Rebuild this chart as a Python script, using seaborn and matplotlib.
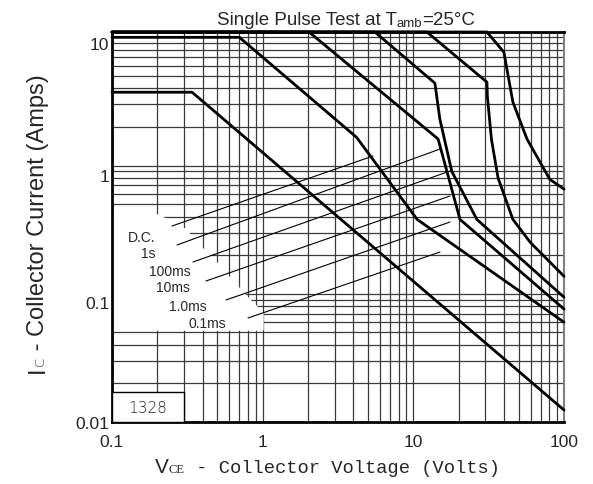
import numpy as np
import pandas as pd
import seaborn as sns
from matplotlib import pyplot as plt
from matplotlib import transforms
from matplotlib.ticker import LogLocator, FixedLocator, FixedFormatter, NullFormatter

sns.set_style('white')
plt.rcParams['font.family'] = ['Liberation Sans', 'DejaVu Sans']

# safe operating area curves (Vce in volts, Ic in amps)
dc_v = [0.1, 0.34, 100]
dc_i = [3.73, 3.73, 0.0124]

s1_v = [0.1, 0.7, 4.2, 10.6, 100]
s1_i = [10.0, 10.0, 1.66, 0.38, 0.060]

ms100_v = [0.1, 2.03, 14.6, 20.4, 100]
ms100_i = [11.0, 11.0, 1.61, 0.38, 0.076]

ms10_v = [0.1, 5.56, 13.9, 15.0, 18.0, 26.4, 100]
ms10_i = [11.0, 11.0, 4.39, 2.30, 0.90, 0.38, 0.094]

ms1_v = [0.1, 12.3, 30.8, 31.0, 33.0, 36.5, 45.8, 60.0, 100]
ms1_i = [11.0, 11.0, 4.47, 3.47, 1.60, 0.80, 0.38, 0.25, 0.137]

ms01_v = [0.1, 30.8, 39.9, 45.8, 56.8, 80.5, 100]
ms01_i = [11.0, 11.0, 7.65, 3.12, 1.61, 0.78, 0.655]

curve_names = ['D.C.', '1s', '100ms', '10ms', '1.0ms', '0.1ms']

x_ticks = [0.1, 1, 10, 100]
x_tick_labels = ['0.1', '1', '10', '100']
y_ticks = [0.01, 0.1, 1, 10]
y_tick_labels = ['0.01', '0.1', '1', '10']


def px(x, y):
    """pixel position of the original picture -> axes fraction"""
    return (x - 112) / 452.0, (423 - y) / 390.0


def rich_text(fig, x, y, parts, rotation=0):
    """draw text pieces one after another (mixed fonts / sizes)"""
    renderer = fig.canvas.get_renderer()
    inv = fig.transFigure.inverted()
    for s, dy, kw in parts:
        if rotation == 0:
            xx, yy = x, y - dy / fig.bbox.height
        else:
            xx, yy = x + dy / fig.bbox.width, y
        t = fig.text(xx, yy, s, rotation=rotation, rotation_mode='anchor',
                     ha='left', va='baseline', **kw)
        bb = t.get_window_extent(renderer)
        if rotation == 0:
            x = inv.transform((bb.x1, 0))[0]
        else:
            y = inv.transform((0, bb.y1))[1]


def main():
    frames = []
    for name, v, i in zip(curve_names,
                          [dc_v, s1_v, ms100_v, ms10_v, ms1_v, ms01_v],
                          [dc_i, s1_i, ms100_i, ms10_i, ms1_i, ms01_i]):
        frames.append(pd.DataFrame({'V': v, 'I': i, 'curve': name}))
    df = pd.concat(frames, ignore_index=True)

    fig = plt.figure(figsize=(5.93, 4.85), dpi=100)
    ax = fig.add_axes([112 / 593, 62 / 485, 452 / 593, 390 / 485])
    ax.set_xscale('log')
    ax.set_yscale('log')

    sns.lineplot(data=df, x='V', y='I', hue='curve', units='curve', estimator=None,
                 sort=False, palette={n: 'black' for n in curve_names},
                 linewidth=2, legend=False, ax=ax, zorder=4, clip_on=False)

    ax.set_xlim(0.1, 100)
    ax.set_ylim(0.01, 11)

    ax.xaxis.set_major_locator(FixedLocator(x_ticks))
    ax.xaxis.set_major_formatter(FixedFormatter(x_tick_labels))
    ax.yaxis.set_major_locator(FixedLocator(y_ticks))
    ax.yaxis.set_major_formatter(FixedFormatter(y_tick_labels))
    ax.xaxis.set_minor_locator(LogLocator(base=10, subs=np.arange(2, 10)))
    ax.yaxis.set_minor_locator(LogLocator(base=10, subs=np.arange(2, 10)))
    ax.xaxis.set_minor_formatter(NullFormatter())
    ax.yaxis.set_minor_formatter(NullFormatter())
    ax.tick_params(which='both', length=0, labelsize=12.5)
    ax.tick_params(axis='x', pad=9)
    ax.tick_params(axis='y', pad=2)
    ax.grid(which='both', color='#3a3a3a', linewidth=0.9)
    ax.set_axisbelow(True)
    ax.set_xlabel('')
    ax.set_ylabel('')

    # the y labels sit a little below their grid lines in the original
    for lab, shift in zip(ax.get_yticklabels(), [0, 8, 9, 6]):
        off = transforms.ScaledTranslation(0, -shift / 100.0, fig.dpi_scale_trans)
        lab.set_transform(lab.get_transform() + off)

    for side in ['left', 'bottom', 'top']:
        ax.spines[side].set_color('black')
        ax.spines[side].set_linewidth(2)
    ax.spines['right'].set_color('#808080')
    ax.spines['right'].set_linewidth(1.5)

    # white patch behind the curve labels
    patch = [px(112, 216), px(158, 216), px(185, 230), px(203, 250), px(218, 265),
             px(229, 278), px(240, 290), px(248, 299), px(256, 307), px(263, 314),
             px(263, 331), px(112, 331)]
    ax.fill([p[0] for p in patch], [p[1] for p in patch], color='white',
            transform=ax.transAxes, zorder=1)

    # curve labels and their leader lines
    label_pos = [(142, 238), (148, 254), (170, 272), (173, 288), (188, 307), (207, 324)]
    leaders = [((172, 227), (373, 157)), ((177, 246), (440, 150)),
               ((193, 263), (450, 172)), ((206, 282), (450, 197)),
               ((226, 301), (450, 223)), ((248, 319), (440, 253))]
    for name, (lx, ly), (a, b) in zip(curve_names, label_pos, leaders):
        ax.text(*px(lx, ly), name, transform=ax.transAxes, ha='center', va='center',
                fontsize=10, zorder=5)
        p0, p1 = px(*a), px(*b)
        ax.plot([p0[0], p1[0]], [p0[1], p1[1]], color='black', linewidth=0.8,
                transform=ax.transAxes, zorder=3)

    # part number box
    box = [px(112, 393), px(184, 393), px(184, 423), px(112, 423)]
    ax.fill([p[0] for p in box], [p[1] for p in box], facecolor='white',
            edgecolor='black', linewidth=1, transform=ax.transAxes, zorder=3)
    ax.text(*px(148, 409), '1328', transform=ax.transAxes, ha='center', va='center',
            fontsize=11, family='DejaVu Sans', fontweight='light', zorder=5)

    # title and axis labels
    rich_text(fig, 217 / 593, 1 - 25 / 485, [
        ('Single Pulse Test at T', 0, dict(fontsize=13.5)),
        ('amb', 2, dict(fontsize=9.5)),
        ('=25°C', 0, dict(fontsize=13.5)),
    ])
    rich_text(fig, 155 / 593, 1 - 473 / 485, [
        ('V', 0, dict(fontsize=15)),
        ('CE', 0, dict(fontsize=9, family='Liberation Serif')),
        (' - Collector Voltage (Volts)', 0, dict(fontsize=13.5, family='Liberation Mono')),
    ])
    rich_text(fig, 44 / 593, 1 - 373 / 485, [
        ('I', 0, dict(fontsize=17)),
        ('C', 0, dict(fontsize=9.5, family='DejaVu Sans', fontweight='light')),
        (' - Collector Current (Amps)', 0, dict(fontsize=17)),
    ], rotation=90)

    fig.savefig('out.png', dpi=100)


if __name__ == '__main__':
    main()
